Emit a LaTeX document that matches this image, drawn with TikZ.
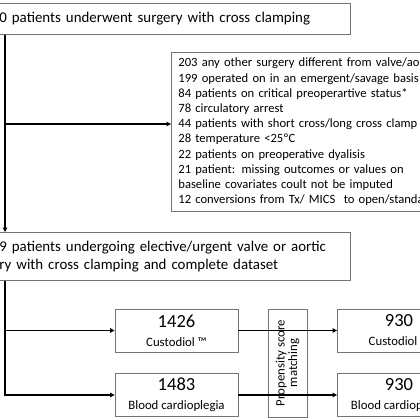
\documentclass[tikz,border=0pt]{standalone}
\usepackage{fontspec}
\setmainfont{Carlito}
\usetikzlibrary{arrows.meta}

\tikzset{
  box/.style={draw=black!55, line width=0.8pt, inner xsep=7pt, inner ysep=0pt},
  group/.style={box, minimum width=123pt, minimum height=43pt, align=center, inner sep=0pt,
    font=\fontsize{12.8}{19}\selectfont},
  link/.style={line width=1.1pt},
  arr/.style={link, -{Triangle[length=4.5pt,width=4.5pt]}},
  big/.style={font=\fontsize{14.9}{18}\selectfont},
  small/.style={font=\fontsize{12.6}{15.2}\selectfont},
}
\newcommand{\num}[1]{{\fontsize{18.5}{19}\selectfont #1}}

\begin{document}
\begin{tikzpicture}[x=1pt,y=-1pt]
  \useasboundingbox (0,0) rectangle (420,420);
  \clip (0,0) rectangle (420,420);

  % Cohorte inicial
  \node[box, big, anchor=north west, text width=344pt, minimum height=31pt, align=left]
    (total) at (-8,3) {0 patients underwent surgery with cross clamping};

  % Exclusiones
  \node[box, small, anchor=north west, text width=285pt, minimum height=159pt, align=left]
    (excl) at (171,52) {203 any other surgery different from valve/aor\\
      199 operated on in an emergent/savage basis\\
      84 patients on critical preoperartive status*\\
      78 circulatory arrest\\
      44 patients with short cross/long cross clamp\\
      28 temperature <25ºC\\
      22 patients on preoperative dyalisis\\
      21 patient: missing outcomes or values on\\
      baseline covariates coult not be imputed\\
      12 conversions from Tx/ MICS\ \ to open/standa};

  % Cohorte final
  \node[box, big, anchor=north west, text width=344pt, minimum height=48pt, align=left]
    (cohort) at (-8,232) {9 patients undergoing elective/urgent valve or aortic\\
      ry with cross clamping and complete dataset};

  % Grupos antes del emparejamiento
  \node[group] (custo) at (176.5,330.5) {\num{1426}\\Custodiol ™};
  \node[group] (blood) at (176.5,395) {\num{1483}\\Blood cardioplegia};

  % Emparejamiento
  \node[box, minimum width=108pt, minimum height=39pt, inner sep=0pt, rotate=90, align=center,
    font=\fontsize{12.8}{12.5}\selectfont] (psm) at (287.5,363) {Propensity score\\matching};

  % Grupos emparejados
  \node[group] (custoM) at (399,330.5) {\num{930}\\Custodiol ™};
  \node[group] (bloodM) at (399,395) {\num{930}\\Blood cardioplegia};

  % Conectores
  \coordinate (spine) at (5,0);
  \coordinate (branch) at (5,124);
  \draw[arr] (total.south -| spine) -- (cohort.north -| spine);
  \draw[arr] (branch) -- (branch -| excl.west);
  \draw[arr] (cohort.south -| spine) |- (blood.west);
  \draw[arr] (spine |- custo.west) -- (custo.west);
  \draw[link] (custo.east) -- (custo.east -| psm.south);
  \draw[link] (blood.east) -- (blood.east -| psm.south);
  \draw[arr] (custo.east -| psm.north) -- (custoM.west);
  \draw[arr] (blood.east -| psm.north) -- (bloodM.west);
\end{tikzpicture}
\end{document}
